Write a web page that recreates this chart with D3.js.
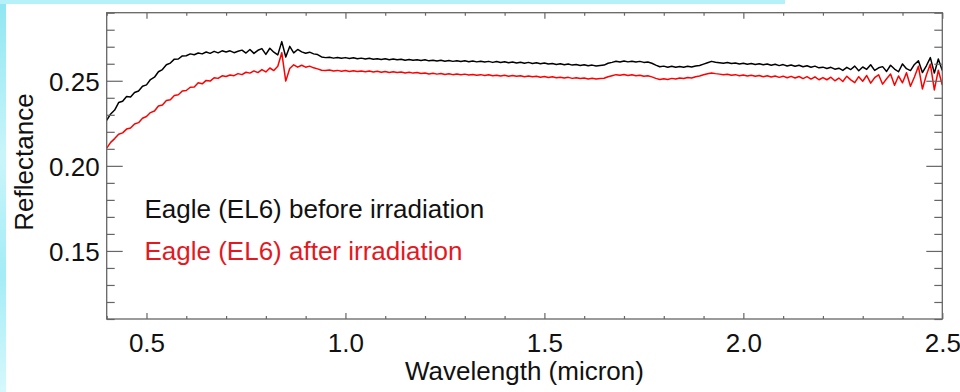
<!DOCTYPE html>
<html>
<head>
<meta charset="utf-8">
<script src="https://cdn.jsdelivr.net/npm/d3@7"></script>
<style>
  html, body { margin: 0; padding: 0; background: #fff; }
  #chart { width: 960px; height: 392px; }
  text { font-family: "Liberation Sans", Arial, Helvetica, sans-serif; }
</style>
</head>
<body>
<div id="chart"></div>
<script>
// spectra sampled every 0.01 micron, 0.40 .. 2.50
var wavelength = d3.range(0, 211).map(function (i) { return +(0.40 + i * 0.01).toFixed(2); });

var beforeIrradiation = [
  0.2268,0.2305,0.2328,0.2372,0.2380,0.2408,0.2405,0.2431,0.2440,0.2468,
  0.2476,0.2507,0.2521,0.2553,0.2566,0.2594,0.2604,0.2627,0.2628,0.2646,
  0.2647,0.2658,0.2653,0.2663,0.2658,0.2669,0.2661,0.2673,0.2664,0.2676,
  0.2669,0.2676,0.2665,0.2673,0.2680,0.2663,0.2684,0.2661,0.2679,0.2689,
  0.2655,0.2691,0.2668,0.2652,0.2730,0.2640,0.2702,0.2664,0.2684,0.2670,
  0.2662,0.2668,0.2658,0.2654,0.2640,0.2636,0.2638,0.2633,0.2637,0.2632,
  0.2636,0.2631,0.2635,0.2629,0.2633,0.2628,0.2632,0.2627,0.2630,0.2625,
  0.2629,0.2624,0.2628,0.2623,0.2627,0.2621,0.2625,0.2620,0.2624,0.2619,
  0.2623,0.2617,0.2621,0.2616,0.2620,0.2615,0.2619,0.2614,0.2618,0.2613,
  0.2617,0.2612,0.2616,0.2611,0.2615,0.2610,0.2614,0.2608,0.2613,0.2607,
  0.2612,0.2606,0.2610,0.2605,0.2609,0.2603,0.2608,0.2602,0.2606,0.2600,
  0.2604,0.2598,0.2602,0.2596,0.2600,0.2594,0.2598,0.2592,0.2596,0.2590,
  0.2594,0.2588,0.2592,0.2587,0.2590,0.2592,0.2603,0.2608,0.2615,0.2610,
  0.2616,0.2611,0.2615,0.2610,0.2614,0.2608,0.2610,0.2603,0.2592,0.2582,
  0.2586,0.2580,0.2585,0.2579,0.2584,0.2580,0.2585,0.2581,0.2587,0.2590,
  0.2598,0.2606,0.2614,0.2609,0.2606,0.2603,0.2607,0.2601,0.2605,0.2599,
  0.2603,0.2597,0.2601,0.2595,0.2600,0.2594,0.2598,0.2591,0.2597,0.2589,
  0.2595,0.2587,0.2593,0.2585,0.2591,0.2582,0.2588,0.2579,0.2586,0.2576,
  0.2580,0.2572,0.2579,0.2568,0.2574,0.2561,0.2579,0.2566,0.2586,0.2559,
  0.2581,0.2567,0.2594,0.2561,0.2576,0.2583,0.2555,0.2591,0.2569,0.2553,
  0.2599,0.2571,0.2560,0.2596,0.2618,0.2548,0.2588,0.2636,0.2545,0.2628,
  0.2560
];

var afterIrradiation = [
  0.2104,0.2138,0.2160,0.2186,0.2194,0.2216,0.2222,0.2246,0.2254,0.2280,
  0.2290,0.2313,0.2322,0.2352,0.2358,0.2384,0.2389,0.2414,0.2418,0.2440,
  0.2443,0.2462,0.2463,0.2488,0.2482,0.2502,0.2498,0.2518,0.2514,0.2529,
  0.2525,0.2534,0.2530,0.2542,0.2536,0.2550,0.2545,0.2558,0.2548,0.2566,
  0.2552,0.2575,0.2560,0.2585,0.2665,0.2498,0.2572,0.2594,0.2580,0.2591,
  0.2580,0.2586,0.2576,0.2570,0.2562,0.2560,0.2563,0.2557,0.2561,0.2556,
  0.2560,0.2555,0.2559,0.2554,0.2558,0.2553,0.2557,0.2552,0.2556,0.2550,
  0.2555,0.2549,0.2553,0.2548,0.2552,0.2546,0.2550,0.2545,0.2548,0.2543,
  0.2546,0.2540,0.2544,0.2539,0.2543,0.2537,0.2541,0.2536,0.2540,0.2535,
  0.2539,0.2534,0.2537,0.2532,0.2536,0.2531,0.2535,0.2529,0.2533,0.2528,
  0.2532,0.2527,0.2531,0.2526,0.2530,0.2524,0.2528,0.2523,0.2527,0.2521,
  0.2525,0.2519,0.2523,0.2518,0.2521,0.2516,0.2520,0.2514,0.2518,0.2513,
  0.2516,0.2511,0.2515,0.2510,0.2513,0.2515,0.2524,0.2530,0.2536,0.2532,
  0.2537,0.2531,0.2535,0.2530,0.2533,0.2527,0.2529,0.2523,0.2514,0.2508,
  0.2512,0.2508,0.2514,0.2510,0.2516,0.2513,0.2519,0.2516,0.2524,0.2528,
  0.2535,0.2541,0.2546,0.2542,0.2539,0.2535,0.2538,0.2532,0.2536,0.2530,
  0.2534,0.2528,0.2532,0.2526,0.2531,0.2524,0.2529,0.2522,0.2528,0.2520,
  0.2527,0.2518,0.2526,0.2516,0.2525,0.2513,0.2524,0.2510,0.2523,0.2506,
  0.2519,0.2506,0.2521,0.2500,0.2516,0.2496,0.2527,0.2505,0.2489,0.2524,
  0.2497,0.2531,0.2486,0.2518,0.2535,0.2480,0.2512,0.2540,0.2474,0.2528,
  0.2488,0.2547,0.2468,0.2522,0.2585,0.2452,0.2534,0.2598,0.2446,0.2562,
  0.2475
];

var seriesNames = ["Eagle (EL6) before irradiation", "Eagle (EL6) after irradiation"];
var xMajorTicks = [0.5, 1.0, 1.5, 2.0, 2.5];
var yMajorTicks = [0.15, 0.20, 0.25];
var xDomain = [0.4, 2.5];
var yDomain = [0.11, 0.29];

Spectrum = (function () {
    var width = 960,
        height = 392,
        margin = {top: 12.7, right: 17.7, bottom: 73, left: 106.7},
        axisColor = "#666",
        svg, plot, x, y, plotW, plotH;

    function initialize(containerId) {
        plotW = width - margin.left - margin.right;
        plotH = height - margin.top - margin.bottom;

        svg = d3.select("#" + containerId).append("svg")
            .attr("width", width)
            .attr("height", height);

        x = d3.scaleLinear().domain(xDomain).range([0, plotW]);
        y = d3.scaleLinear().domain(yDomain).range([plotH, 0]);

        _background();

        plot = svg.append("g")
            .attr("transform", "translate(" + margin.left + "," + margin.top + ")");
    }

    function _background() {
        var grad = svg.append("defs").append("linearGradient")
            .attr("id", "slide")
            .attr("x1", 0).attr("y1", 0).attr("x2", 0).attr("y2", 1);
        grad.append("stop").attr("offset", "0%").attr("stop-color", "#8fe6f2");
        grad.append("stop").attr("offset", "40%").attr("stop-color", "#c9f5fa");
        grad.append("stop").attr("offset", "70%").attr("stop-color", "#a4ecf6");
        grad.append("stop").attr("offset", "100%").attr("stop-color", "#d6f8fc");

        svg.append("rect").attr("x", 0).attr("y", 0).attr("width", 6).attr("height", height)
            .attr("fill", "url(#slide)");
        svg.append("rect").attr("x", 0).attr("y", 0).attr("width", 785).attr("height", 4)
            .attr("fill", "#b6f0f8");
    }

    function _minor(scale, majors, count) {
        return scale.ticks(count)
            .filter(function (t) {
                return !majors.some(function (m) { return Math.abs(m - t) < 1e-6; });
            });
    }

    function _style(g) {
        g.select(".domain").remove();
        g.selectAll(".tick line").attr("stroke", axisColor).attr("stroke-width", 1.2);
        g.selectAll(".tick text")
            .attr("fill", "#111")
            .style("font-size", "26px");
    }

    function drawAxes() {
        var xMinor = _minor(x, xMajorTicks, 21),
            yMinor = _minor(y, yMajorTicks, 18);

        // bottom
        plot.append("g").attr("transform", "translate(0," + plotH + ")")
            .call(d3.axisBottom(x).tickValues(xMajorTicks).tickSize(-6).tickPadding(15)
                .tickFormat(d3.format(".1f")))
            .call(_style);
        plot.append("g").attr("transform", "translate(0," + plotH + ")")
            .call(d3.axisBottom(x).tickValues(xMinor).tickSize(-3).tickFormat(""))
            .call(_style);
        // top
        plot.append("g")
            .call(d3.axisTop(x).tickValues(xMajorTicks).tickSize(-6).tickFormat(""))
            .call(_style);
        plot.append("g")
            .call(d3.axisTop(x).tickValues(xMinor).tickSize(-3).tickFormat(""))
            .call(_style);
        // left
        plot.append("g")
            .call(d3.axisLeft(y).tickValues(yMajorTicks).tickSize(-16).tickPadding(7)
                .tickFormat(d3.format(".2f")))
            .call(_style)
            .selectAll(".tick text").attr("dy", "0.38em");
        plot.append("g")
            .call(d3.axisLeft(y).tickValues(yMinor).tickSize(-8).tickFormat(""))
            .call(_style);
        // right
        plot.append("g").attr("transform", "translate(" + plotW + ",0)")
            .call(d3.axisRight(y).tickValues(yMajorTicks).tickSize(-16).tickFormat(""))
            .call(_style);
        plot.append("g").attr("transform", "translate(" + plotW + ",0)")
            .call(d3.axisRight(y).tickValues(yMinor).tickSize(-8).tickFormat(""))
            .call(_style);

        plot.append("rect")
            .attr("width", plotW).attr("height", plotH)
            .attr("fill", "none")
            .attr("stroke", axisColor)
            .attr("stroke-width", 1.3);

        svg.append("text")
            .attr("x", margin.left + plotW / 2).attr("y", 380)
            .attr("text-anchor", "middle")
            .attr("fill", "#111")
            .style("font-size", "26px")
            .text("Wavelength (micron)");

        svg.append("text")
            .attr("transform", "translate(33,162) rotate(-90)")
            .attr("text-anchor", "middle")
            .attr("fill", "#111")
            .style("font-size", "26px")
            .text("Reflectance");
    }

    function drawSpectra() {
        var line = d3.line()
            .x(function (d) { return x(d[0]); })
            .y(function (d) { return y(d[1]); });

        var series = [
            {name: seriesNames[0], values: d3.zip(wavelength, beforeIrradiation), color: "#000", text: "#111"},
            {name: seriesNames[1], values: d3.zip(wavelength, afterIrradiation), color: "#f00", text: "#e3191f"}
        ];

        plot.selectAll("path.spectrum").data(series).enter().append("path")
            .attr("class", "spectrum")
            .attr("d", function (d) { return line(d.values); })
            .attr("fill", "none")
            .attr("stroke", function (d) { return d.color; })
            .attr("stroke-width", 1.5)
            .attr("stroke-linejoin", "round");

        plot.selectAll("text.legend").data(series).enter().append("text")
            .attr("class", "legend")
            .attr("x", x(0.5) - 2)
            .attr("y", function (d, i) { return 205.5 + i * 42; })
            .attr("fill", function (d) { return d.text; })
            .style("font-size", "26px")
            .text(function (d) { return d.name; });
    }

    return {
        initialize: initialize,
        drawAxes: drawAxes,
        drawSpectra: drawSpectra
    };
})();

Spectrum.initialize("chart");
Spectrum.drawSpectra();
Spectrum.drawAxes();
</script>
</body>
</html>
